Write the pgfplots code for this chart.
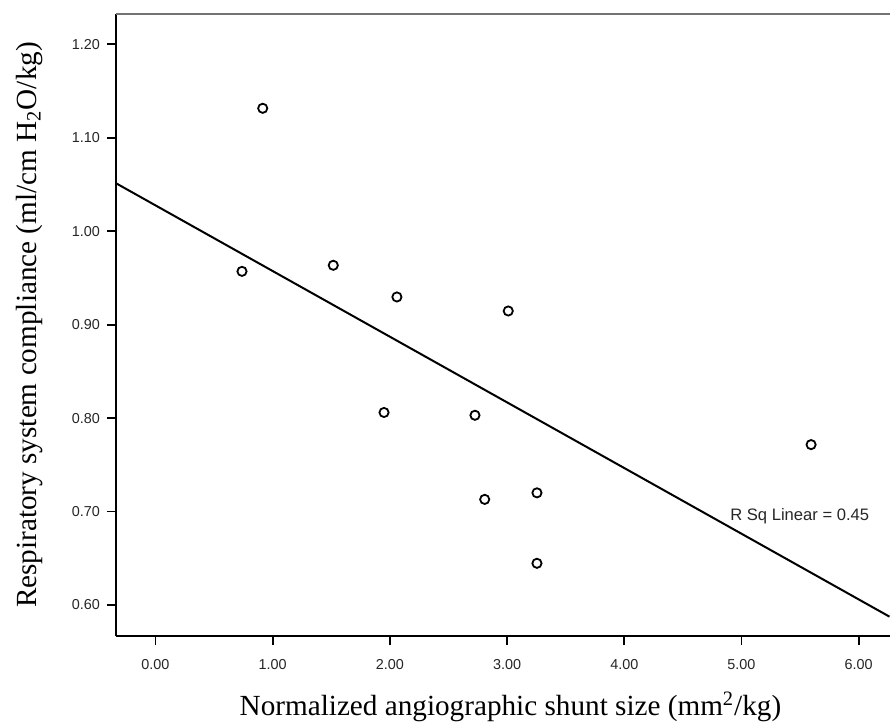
\documentclass[border=0pt]{standalone}
\usepackage{fontspec}
\setmainfont{Liberation Serif}
\newfontfamily\arial{Liberation Sans}
\usepackage{pgfplots}
\pgfplotsset{compat=1.18}
\begin{document}
\begin{tikzpicture}
\useasboundingbox (-58pt,-43.5pt) rectangle (387pt,318pt);
\begin{axis}[
  at={(0pt,0pt)}, anchor=south west,
  scale only axis, width=386.75pt, height=311pt,
  xmin=-0.337, xmax=6.263,
  ymin=0.5668, ymax=1.2324,
  axis x line*=bottom, axis y line*=left,
  axis line style={black, line width=1pt, -},
  xtick={0,1,2,3,4,5,6},
  ytick={0.6,0.7,0.8,0.9,1.0,1.1,1.2},
  tick align=outside,
  major tick length=4.5pt,
  tick style={black, line width=0.9pt},
  /pgf/number format/assume math mode=true,
  /pgf/number format/.cd, fixed, zerofill, precision=2, /pgfplots/.cd,
  tick label style={font=\arial\fontsize{7.2}{8}\selectfont, text=black!85},
  xticklabel style={yshift=-3.5pt},
  label style={font=\fontsize{14.6}{16}\selectfont},
  xlabel={Normalized angiographic shunt size (mm\textsuperscript{2}/kg)},
  ylabel={Respiratory system compliance (ml/cm H\textsubscript{2}O/kg)},
  xlabel style={at={(axis description cs:0.51,-0.114)}, anchor=center},
  ylabel style={at={(axis description cs:-0.112,0.5)}, anchor=center},
  clip=false,
]
\draw[black!55, line width=0.75pt] (rel axis cs:0,1) -- (rel axis cs:1,1);
\addplot[black, line width=1pt] coordinates {(-0.337,1.0513) (6.263,0.5875)};
\addplot[only marks, mark=o, mark size=2.3pt, mark options={black, line width=0.9pt}]
  coordinates {
  (0.915,1.1315) (0.738,0.957) (1.517,0.9635) (2.06,0.9296) (1.95,0.806)
  (2.726,0.803) (2.809,0.713) (3.255,0.720) (3.255,0.6446) (3.01,0.9146)
  (5.594,0.7716)
  };
\node[font=\arial\fontsize{8.3}{9}\selectfont, text=black!85, inner sep=0pt] at (axis cs:5.497,0.6945) {R Sq Linear = 0.45};
\end{axis}
\end{tikzpicture}
\end{document}
